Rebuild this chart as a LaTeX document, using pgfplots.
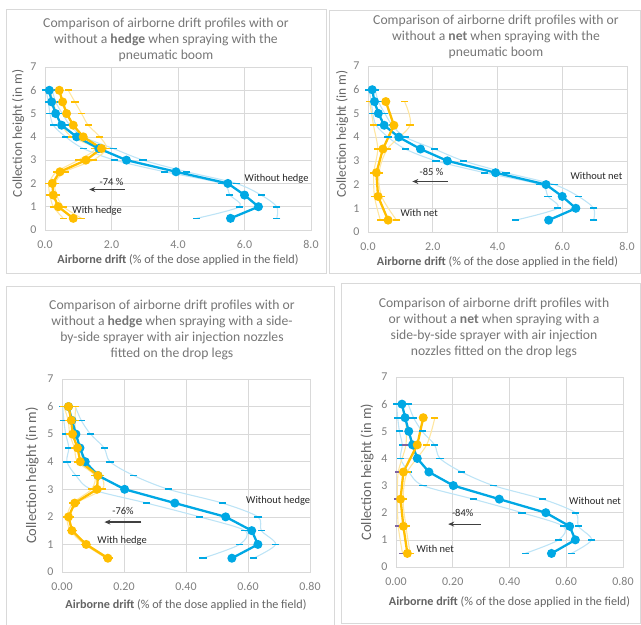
\documentclass[border=0pt]{standalone}
\usepackage{fontspec}
\setmainfont{Carlito}
\usepackage{pgfplots}
\usepackage{pgfplotstable}
\pgfplotsset{compat=1.18}
\usetikzlibrary{arrows.meta}

\definecolor{cblue}{RGB}{0,168,228}
\definecolor{lblue}{RGB}{190,228,246}
\definecolor{corange}{RGB}{255,190,0}
\definecolor{lorange}{RGB}{255,230,160}
\definecolor{cpurple}{RGB}{128,100,162}
\definecolor{gridc}{RGB}{217,217,217}
\definecolor{tickc}{RGB}{128,128,128}
\definecolor{labelc}{RGB}{100,100,100}
\definecolor{titlec}{RGB}{118,118,118}

% h = collection height, m = mean, lo/hi = bounds
\pgfplotstableread{
h   m    lo   hi
6.0 0.13 0.03 0.22
5.5 0.20 0.10 0.32
5.0 0.32 0.15 0.52
4.5 0.50 0.25 0.75
4.0 0.95 0.62 1.15
3.5 1.62 1.15 2.05
3.0 2.45 2.10 2.95
2.5 3.94 3.60 4.26
2.0 5.50 5.30 5.75
1.5 6.00 5.56 6.50
1.0 6.42 5.85 6.97
0.5 5.58 4.56 6.97
}\bluePn

\pgfplotstableread{
h   m    lo   hi
6.0 0.43 0.15 0.70
5.5 0.53 0.25 0.90
5.0 0.65 0.35 1.10
4.5 0.85 0.50 1.30
4.0 1.15 0.80 1.65
3.5 1.70 1.50 1.85
3.0 1.23 1.00 1.45
2.5 0.45 0.35 0.60
2.0 0.22 0.12 0.30
1.5 0.25 0.15 0.35
1.0 0.40 0.25 0.55
0.5 0.85 0.55 1.10
}\hedgePn

\pgfplotstableread{
h   m    lo   hi
5.5 0.55 0.05 1.13
4.5 0.80 0.17 1.30
3.5 0.46 0.30 0.60
2.5 0.26 0.18 0.34
1.5 0.31 0.20 0.42
0.5 0.62 0.38 0.88
}\netPn

\pgfplotstableread{
h   m     lo    hi
6.0 0.021 0.002 0.043
5.5 0.032 0.006 0.062
5.0 0.045 0.012 0.092
4.5 0.058 0.022 0.136
4.0 0.075 0.016 0.155
3.5 0.116 0.045 0.231
3.0 0.202 0.095 0.343
2.5 0.364 0.273 0.517
2.0 0.528 0.444 0.632
1.5 0.612 0.590 0.643
1.0 0.632 0.573 0.689
0.5 0.548 0.455 0.618
}\blueSb

\pgfplotstableread{
h   m     lo    hi
6.0 0.021 0.006 0.044
5.5 0.030 0.020 0.042
5.0 0.034 0.025 0.045
4.5 0.050 0.040 0.060
4.0 0.059 0.050 0.070
3.5 0.116 0.105 0.125
3.0 0.113 0.095 0.130
2.5 0.041 0.035 0.047
2.0 0.021 0.016 0.026
1.5 0.032 0.027 0.037
1.0 0.078 0.073 0.083
0.5 0.148 0.143 0.153
}\hedgeSb

\pgfplotstableread{
h   m     lo    hi
5.5 0.096 0.035 0.137
4.5 0.075 0.035 0.108
3.5 0.026 0.008 0.040
2.5 0.016 0.005 0.025
1.5 0.026 0.008 0.035
0.5 0.040 0.023 0.050
}\netSb

\tikzset{
  ann/.style={font=\fontsize{10.5}{12}\selectfont, text=black!85},
  arr/.style={black!75, line width=1.2bp, -{Stealth[length=6bp,width=5bp]}},
}

\pgfplotsset{
  drift/.style={
    scale only axis,
    ymin=0, ymax=7, ytick={0,...,7},
    grid=major,
    major grid style={gridc, line width=0.7bp},
    axis line style={gridc, line width=0.7bp},
    tick style={draw=none},
    major tick length=0pt,
    /pgf/number format/assume math mode=true,
    tick label style={font=\fontsize{12}{13}\selectfont, text=tickc},
    yticklabel style={xshift=-5bp},
    xticklabel style={yshift=-7bp},
    xlabel style={font=\fontsize{12.2}{14}\selectfont, text=labelc},
    xlabel={\textbf{Airborne drift} (\% of the dose applied in the field)},
    ylabel={Collection height (in m)},
  },
  big/.style={xmin=0, xmax=8, xtick={0,2,4,6,8},
    xticklabel={\pgfmathprintnumber[fixed,fixed zerofill,precision=1]{\tick}}},
  small/.style={xmin=0, xmax=0.8, xtick={0,0.2,0.4,0.6,0.8},
    xticklabel={\pgfmathprintnumber[fixed,fixed zerofill,precision=2]{\tick}}},
  xlab/.style={xlabel style={at={(axis description cs:0.5,0)}, anchor=center, yshift=-#1}},
  % #1 distance left of the axis, #2 shift up, #3 font size
  ylab/.style n args={3}{ylabel style={at={(axis description cs:0,0.5)}, anchor=center,
    yshift=#1, xshift=#2, font=\fontsize{#3}{15}\selectfont, text=labelc}},
  bound/.style={#1, line width=1.1bp, smooth},
  dashes/.style={mark=-, mark size=3.6bp, mark options={draw=#1, line width=1.6bp}},
  mean/.style={#1, line width=2.3bp, mark=*, mark size=3.3bp, mark options={draw=#1, fill=#1}},
}

\newcommand\tfont{\fontsize{13.7}{16}\selectfont}

\begin{document}
\begin{tikzpicture}
\useasboundingbox (0,0) rectangle (641bp,625bp);

% chart frames
\draw[gridc, line width=0.8bp] (6bp,352bp) rectangle (326bp,616bp);
\draw[gridc, line width=0.8bp] (329bp,352bp) rectangle (640bp,615bp);
\draw[gridc, line width=0.8bp] (6bp,-5bp) rectangle (334bp,339bp);
\draw[gridc, line width=0.8bp] (341bp,2bp) rectangle (640bp,342bp);

% titles
\node[align=center, font=\tfont, text=titlec] at (166bp,585bp)
  {Comparison of airborne drift profiles with or\\ without a \textbf{hedge} when spraying with the\\ pneumatic boom};
\node[align=center, font=\tfont, text=titlec] at (496bp,588bp)
  {Comparison of airborne drift profiles with or\\ without a \textbf{net} when spraying with the\\ pneumatic boom};
\node[align=center, font=\tfont, text=titlec] at (172bp,295bp)
  {Comparison of airborne drift profiles with or\\ without a \textbf{hedge} when spraying with a side-\\ by-side sprayer with air injection nozzles\\ fitted on the drop legs};
\node[align=center, font=\tfont, text=titlec] at (494bp,297bp)
  {Comparison of airborne drift profiles with\\ or without a \textbf{net} when spraying with a\\ side-by-side sprayer with air injection\\ nozzles fitted on the drop legs};

% top left: hedge, pneumatic boom
\begin{axis}[drift, big, at={(45bp,395bp)}, width=266bp, height=163bp, xlab=30bp, ylab={27bp}{15bp}{13.5}]
\addplot[bound=lblue, dashes=cblue] table[x=lo, y=h] {\bluePn};
\addplot[bound=lblue, dashes=cblue] table[x=hi, y=h] {\bluePn};
\addplot[bound=lorange, dashes=corange] table[x=lo, y=h] {\hedgePn};
\addplot[bound=lorange, dashes=corange] table[x=hi, y=h] {\hedgePn};
\addplot[mean=cblue] table[x=m, y=h] {\bluePn};
\addplot[mean=corange] table[x=m, y=h] {\hedgePn};
\node[ann, anchor=west] at (axis cs:5.9,2.21) {Without hedge};
\node[ann] at (axis cs:2.0,2.07) {-74 \%};
\draw[arr] (axis cs:2.4,1.74) -- (axis cs:1.33,1.74);
\node[ann, anchor=west] at (axis cs:0.72,0.81) {With hedge};
\end{axis}

% top right: net, pneumatic boom
\begin{axis}[drift, big, at={(368bp,393bp)}, width=259bp, height=166bp, xlab=30bp, ylab={26bp}{15bp}{13.5}]
\addplot[bound=lblue, dashes=cblue] table[x=lo, y=h] {\bluePn};
\addplot[bound=lblue, dashes=cblue] table[x=hi, y=h] {\bluePn};
\addplot[bound=lorange, dashes=corange] table[x=lo, y=h] {\netPn};
\addplot[bound=lorange, dashes=corange] table[x=hi, y=h] {\netPn};
\addplot[mean=cblue] table[x=m, y=h] {\bluePn};
\addplot[mean=corange] table[x=m, y=h] {\netPn};
\node[ann, anchor=west] at (axis cs:6.15,2.37) {Without net};
\node[ann] at (axis cs:1.96,2.55) {-85 \%};
\draw[arr] (axis cs:2.46,2.13) -- (axis cs:1.37,2.13);
\node[ann, anchor=west] at (axis cs:0.9,0.8) {With net};
\end{axis}

% bottom left: hedge, side-by-side sprayer
\begin{axis}[drift, small, at={(62bp,53bp)}, width=248bp, height=193bp, xlab=33bp, ylab={30bp}{0bp}{14.5}]
\addplot[bound=lblue, dashes=cblue] table[x=lo, y=h] {\blueSb};
\addplot[bound=lblue, dashes=cblue] table[x=hi, y=h] {\blueSb};
\addplot[bound=lorange, dashes=corange] table[x=lo, y=h] {\hedgeSb};
\addplot[bound=lorange, dashes=corange] table[x=hi, y=h] {\hedgeSb};
\addplot[mean=cblue] table[x=m, y=h] {\blueSb};
\addplot[mean=corange] table[x=m, y=h] {\hedgeSb};
\node[ann, anchor=west] at (axis cs:0.583,2.58) {Without hedge};
\node[ann] at (axis cs:0.197,2.21) {-76\%};
\draw[arr] (axis cs:0.256,1.81) -- (axis cs:0.137,1.81);
\node[ann, anchor=west] at (axis cs:0.103,1.13) {With hedge};
\end{axis}

% bottom right: net, side-by-side sprayer
\begin{axis}[drift, small, at={(396bp,58bp)}, width=227bp, height=190bp, xlab=35bp, ylab={29bp}{0bp}{14.5}]
\addplot[bound=lblue, dashes=cblue] table[x=lo, y=h] {\blueSb};
\addplot[bound=lblue, dashes=cblue] table[x=hi, y=h] {\blueSb};
\addplot[bound=lorange, dashes=cpurple] table[x=lo, y=h] {\netSb};
\addplot[bound=lorange, dashes=corange] table[x=hi, y=h] {\netSb};
\addplot[mean=cblue] table[x=m, y=h] {\blueSb};
\addplot[mean=corange] table[x=m, y=h] {\netSb};
\node[ann, anchor=west] at (axis cs:0.598,2.44) {Without net};
\node[ann] at (axis cs:0.235,2.0) {-84\%};
\draw[arr] (axis cs:0.298,1.58) -- (axis cs:0.184,1.58);
\node[ann, anchor=west] at (axis cs:0.06,0.66) {With net};
\end{axis}
\end{tikzpicture}
\end{document}
